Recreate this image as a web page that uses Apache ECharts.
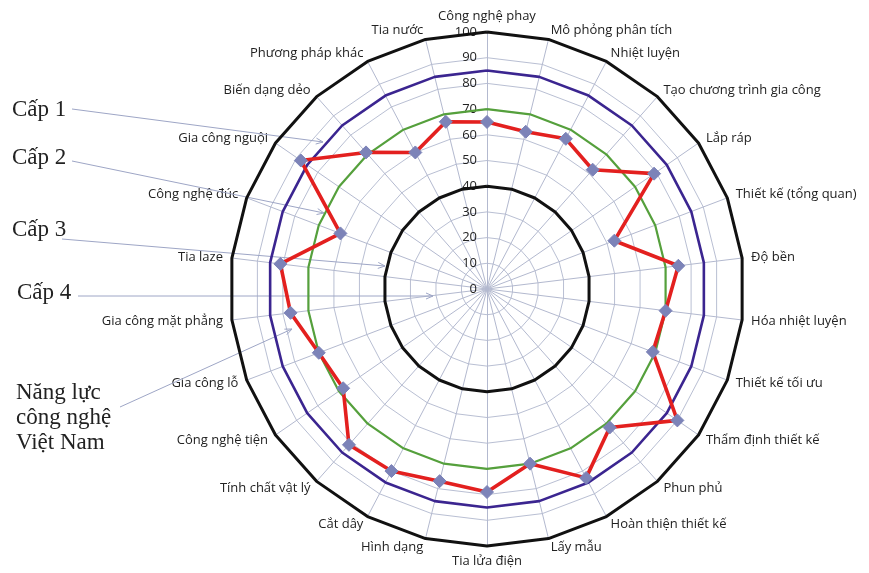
<!DOCTYPE html>
<html>
<head>
<meta charset="utf-8">
<script src="https://cdn.jsdelivr.net/npm/echarts@6/dist/echarts.min.js"></script>
<style>
html,body{margin:0;padding:0;background:#fff;}
#chart{width:869px;height:573px;}
</style>
</head>
<body>
<div id="chart"></div>
<script>
// Indicators listed clockwise from the top
var categories = [
  'Công nghệ phay','Mô phỏng phân tích','Nhiệt luyện','Tạo chương trình gia công',
  'Lắp ráp','Thiết kế (tổng quan)','Độ bền','Hóa nhiệt luyện','Thiết kế tối ưu',
  'Thẩm định thiết kế','Phun phủ','Hoàn thiện thiết kế','Lấy mẫu','Tia lửa điện',
  'Hình dạng','Cắt dây','Tính chất vật lý','Công nghệ tiện','Gia công lỗ',
  'Gia công mặt phẳng','Tia laze','Công nghệ đúc','Gia công nguội','Biến dạng dẻo',
  'Phương pháp khác','Tia nước'
];
var vietNam = [65, 63, 66, 62, 79, 53, 75, 70, 69, 90, 72, 83, 70, 79,
               77, 80, 81, 68, 70, 77, 81, 61, 88, 71, 60, 67];
var levelNames = ['Cấp 1', 'Cấp 2', 'Cấp 3', 'Cấp 4'];
var levelValues = [100, 85, 70, 40];
var tickLabels = ['0','10','20','30','40','50','60','70','80','90','100'];
var axisMax = 100;

// ECharts radar runs counter-clockwise: reorder so the picture reads clockwise
function toCCW(arr){ return [arr[0]].concat(arr.slice(1).reverse()); }

var indicators = toCCW(categories).map(function(n, i){
  var o = {name: n, max: axisMax, min: 0};
  if (i === 0) o.axisLabel = {show: true};
  return o;
});

var levelColors = ['#111111', '#3b2590', '#55a03c', '#111111'];
var levelWidths = [3, 2.6, 2.2, 3];

var series = [{
  type: 'radar',
  silent: true,
  symbol: 'none',
  data: levelNames.map(function(n, i){
    return {
      name: n,
      value: categories.map(function(){ return levelValues[i]; }),
      lineStyle: {color: levelColors[i], width: levelWidths[i]},
      z: 2
    };
  })
}, {
  type: 'radar',
  z: 5,
  symbol: 'diamond',
  symbolSize: 13,
  data: [{
    name: 'Năng lực công nghệ Việt Nam',
    value: toCCW(vietNam),
    lineStyle: {color: '#e3201f', width: 3.6},
    itemStyle: {color: '#7c83b8', borderColor: '#7c83b8'}
  }]
}];

// Annotation labels with leader lines
var notes = [
  {text: 'Cấp 1', x: 12, y: 112, from: [72, 109], to: [323, 142]},
  {text: 'Cấp 2', x: 12, y: 160, from: [72, 161], to: [324, 213]},
  {text: 'Cấp 3', x: 12, y: 232, from: [62, 239], to: [385, 266]},
  {text: 'Cấp 4', x: 17, y: 295, from: [78, 296], to: [433, 296]}
];
var serifFont = '23px "Liberation Serif", "DejaVu Serif", serif';
var graphics = [];
function arrow(from, to){
  var dx = to[0]-from[0], dy = to[1]-from[1], L = Math.sqrt(dx*dx+dy*dy);
  var ux = dx/L, uy = dy/L, s = 7, w = 3;
  graphics.push({type:'line', silent:true, z: 1,
    shape:{x1:from[0], y1:from[1], x2:to[0], y2:to[1]},
    style:{stroke:'#9ea6c6', lineWidth:1}});
  graphics.push({type:'polyline', silent:true, z: 1,
    shape:{points:[[to[0]-ux*s-uy*w, to[1]-uy*s+ux*w],[to[0],to[1]],[to[0]-ux*s+uy*w, to[1]-uy*s-ux*w]]},
    style:{stroke:'#9ea6c6', lineWidth:1, fill:null}});
}
notes.forEach(function(n){
  graphics.push({type:'text', left: n.x, top: n.y - 14, silent:true,
    style:{text:n.text, font:serifFont, fill:'#222'}});
  arrow(n.from, n.to);
});
graphics.push({type:'text', left: 16, top: 380, silent:true,
  style:{text:'Năng lực\ncông nghệ\nViệt Nam', font:serifFont, lineHeight:25, fill:'#222'}});
arrow([120, 407], [292, 329]);

var option = {
  backgroundColor: '#ffffff',
  animation: false,
  radar: {
    center: [487, 289],
    radius: 257,
    startAngle: 90,
    splitNumber: 10,
    shape: 'polygon',
    indicator: indicators,
    nameGap: 9,
    axisName: {color: '#222', fontSize: 13, fontFamily: '"Open Sans", Lato, sans-serif'},
    axisLine: {lineStyle: {color: '#b3b9cf', width: 1}},
    splitLine: {lineStyle: {color: '#b9bfd3', width: 1}},
    splitArea: {show: false},
    axisTick: {show: false},
    axisLabel: {show: false, color: '#222', fontSize: 13, margin: 10, fontFamily: '"Open Sans", sans-serif',
      formatter: function(v){ var i = Math.round(v/10); return tickLabels[i] !== undefined ? tickLabels[i] : ''; }}
  },
  graphic: graphics,
  series: series
};

var chart = echarts.init(document.getElementById('chart'));
chart.setOption(option);
</script>
</body>
</html>
